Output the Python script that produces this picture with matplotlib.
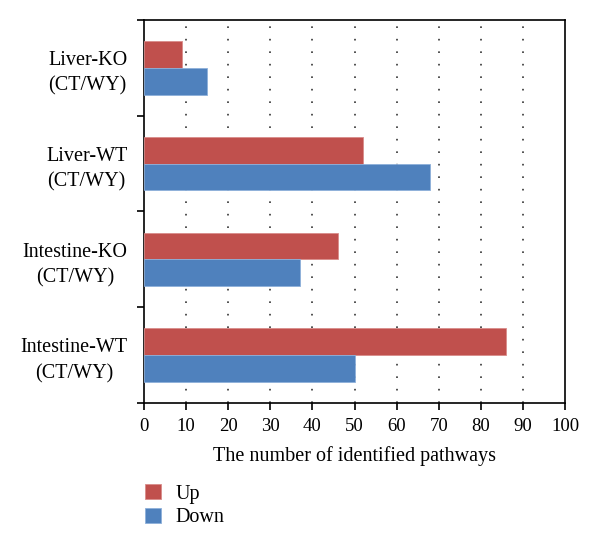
import numpy as np
import matplotlib.pyplot as plt

categories = ['Liver-KO\n(CT/WY)', 'Liver-WT\n(CT/WY)', 'Intestine-KO\n(CT/WY)', 'Intestine-WT\n(CT/WY)']
up = [9, 52, 46, 86]
down = [15, 68, 37, 50]
xticks = [0, 10, 20, 30, 40, 50, 60, 70, 80, 90, 100]

plt.rcParams['font.family'] = ['Liberation Serif', 'DejaVu Serif']

fig = plt.figure(figsize=(6, 5.48), dpi=100)
ax = fig.add_axes([0.24, 0.2646, 0.7017, 0.699])

y = np.arange(len(categories))
h = 0.28
ax.barh(y - h / 2, up, height=h, color='#C0504D', edgecolor='#D98C8A', linewidth=0.6, label='Up', zorder=3)
ax.barh(y + h / 2, down, height=h, color='#4F81BD', edgecolor='#8EB0DA', linewidth=0.6, label='Down', zorder=3)

ax.set_xlim(0, 100)
ax.set_ylim(len(categories) - 0.5, -0.5)
ax.set_xticks(xticks)
ax.set_yticks(y)
ax.set_yticklabels(categories, multialignment='center', linespacing=1.45)
ax.set_yticks(np.arange(-0.5, len(categories), 1.0), minor=True)
ax.tick_params(axis='y', which='major', length=0, pad=12, labelsize=14.5)
ax.tick_params(axis='y', which='minor', length=5, width=1.2)
ax.tick_params(axis='x', length=5, width=1.2, labelsize=13.5, pad=6)

for v in xticks[1:-1]:
    ax.axvline(v, color='#333333', linewidth=1.2, linestyle=(0, (1, 6.5)), zorder=1)

for s in ax.spines.values():
    s.set_linewidth(1.2)

ax.set_xlabel('The number of identified pathways', fontsize=14.5, labelpad=8)

fig.legend(loc='upper left', bbox_to_anchor=(0.212, 0.15), frameon=False,
           fontsize=14.5, handlelength=0.8, handleheight=0.8, labelspacing=0.2, handletextpad=0.7)

fig.savefig('out.png', dpi=100)
